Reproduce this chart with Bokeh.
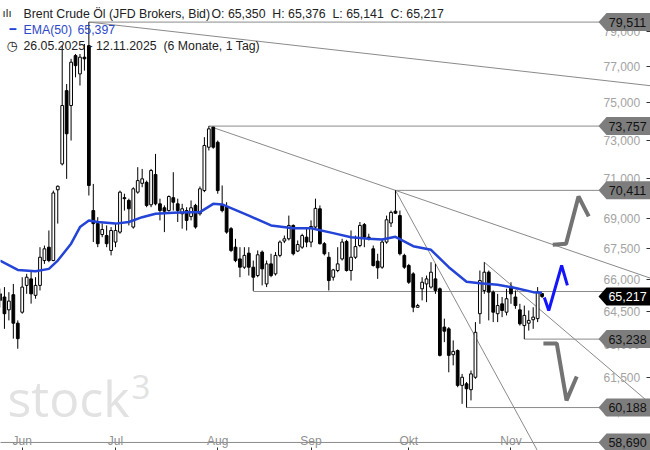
import numpy as np
import pandas as pd
from bokeh.plotting import figure
from bokeh.models import ColumnDataSource, FixedTicker, CustomJSTickFormatter, Range1d, Label
from bokeh.core.properties import value
from bokeh.embed import file_html
from bokeh.resources import INLINE

# ---------------- data ----------------
opens = [65.34, 65.19, 64.59, 65.30, 63.97, 64.48, 65.74, 66.05, 65.27, 65.74,
         66.93, 67.58, 66.93, 70.44, 71.77, 75.67, 74.86, 77.61, 76.59, 77.52,
         78.17, 69.39, 68.74, 68.20, 68.15, 67.42, 67.83, 68.32, 70.04, 69.90,
         68.57, 70.32, 70.77, 70.82, 69.68, 71.22, 69.73, 69.53, 69.39, 70.04,
         69.73, 69.23, 69.39, 69.09, 69.65, 69.23, 70.40, 72.64, 73.70, 72.90,
         69.65, 69.56, 68.49, 67.58, 67.01, 66.61, 67.29, 66.61, 66.21, 67.34,
         65.81, 66.77, 66.29, 67.18, 67.88, 67.99, 68.65, 67.39, 67.58, 68.07,
         67.83, 68.57, 69.48, 67.75, 67.09, 66.13, 66.45, 67.01, 67.86, 66.45,
         67.09, 67.66, 68.69, 68.07, 67.50, 66.90, 66.61, 67.83, 68.77, 69.36,
         69.14, 67.18, 66.69, 66.29, 64.71, 65.58, 65.81, 65.66, 66.05, 65.58,
         63.79, 63.71, 62.53, 62.72, 61.16, 61.23, 60.97, 61.52, 64.41, 65.50,
         66.37, 65.42, 64.41, 64.87, 64.48, 65.66, 65.19, 64.59, 63.86, 63.97,
         64.13, 64.18, 65.350]
highs = [65.59, 65.66, 65.42, 65.81, 64.10, 66.13, 66.29, 66.45, 66.13, 67.58,
         67.66, 68.40, 70.40, 70.66, 78.17, 76.03, 77.43, 77.70, 77.70, 78.26,
         79.511, 70.74, 69.06, 68.75, 68.65, 68.57, 68.74, 70.40, 70.24, 69.99,
         70.57, 71.60, 71.51, 70.91, 71.51, 72.29, 69.99, 69.65, 70.15, 71.34,
         69.99, 69.73, 69.56, 69.90, 69.73, 70.61, 73.17, 73.757, 73.72, 72.99,
         70.66, 69.81, 68.57, 67.99, 67.58, 67.58, 67.58, 66.93, 67.42, 67.42,
         66.93, 67.26, 67.34, 67.91, 68.15, 69.14, 68.70, 67.91, 68.24, 68.49,
         68.90, 69.99, 69.65, 67.83, 67.34, 66.53, 67.58, 67.99, 67.94, 68.40,
         68.15, 68.82, 68.77, 68.24, 67.66, 67.26, 67.99, 69.14, 69.39, 70.411,
         69.39, 67.26, 66.77, 66.37, 64.87, 66.13, 66.21, 66.85, 66.77, 65.64,
         64.18, 63.79, 63.18, 62.77, 61.67, 61.31, 61.82, 64.02, 66.45, 66.85,
         66.45, 65.50, 65.34, 65.19, 65.58, 65.89, 65.50, 64.87, 64.79, 64.56,
         64.71, 65.66, 65.376]
lows = [64.70, 63.71, 64.10, 63.26, 62.80, 64.41, 65.34, 64.88, 65.11, 65.50,
        66.77, 66.85, 66.90, 68.74, 71.69, 71.00, 72.99, 76.40, 75.95, 76.77,
        70.15, 67.83, 67.58, 68.07, 67.58, 67.18, 67.58, 68.24, 69.39, 68.65,
        68.49, 70.24, 70.57, 69.56, 69.56, 69.65, 68.90, 68.32, 69.34, 69.39,
        68.82, 68.49, 68.40, 68.90, 68.49, 69.14, 70.32, 72.47, 72.56, 70.24,
        69.30, 68.24, 67.34, 66.85, 66.13, 66.53, 66.21, 65.48, 66.13, 65.74,
        65.66, 66.13, 66.21, 67.09, 67.78, 67.91, 67.18, 67.34, 67.50, 67.58,
        67.58, 68.49, 67.71, 67.18, 65.50, 65.97, 66.37, 66.93, 66.40, 65.97,
        67.01, 67.58, 67.58, 67.91, 66.64, 66.05, 66.53, 67.75, 68.57, 69.23,
        67.18, 66.53, 65.81, 64.48, 64.69, 65.03, 64.95, 65.59, 65.34, 62.45,
        63.10, 61.74, 62.05, 61.08, 60.35, 60.188, 60.50, 61.45, 63.94, 65.34,
        64.10, 64.02, 64.02, 64.25, 64.33, 64.87, 64.64, 63.86, 63.238, 63.63,
        63.71, 64.02, 65.141]
closes = [65.03, 64.41, 65.00, 63.97, 63.26, 65.66, 66.13, 65.34, 65.74, 67.09,
          67.50, 66.93, 70.28, 70.62, 74.86, 73.35, 77.24, 77.05, 77.52, 77.43,
          70.66, 68.74, 67.75, 68.45, 67.75, 68.40, 68.40, 70.32, 69.99, 69.48,
          70.49, 70.91, 71.00, 69.65, 71.43, 69.73, 69.39, 69.36, 70.10, 69.81,
          69.39, 69.48, 68.90, 69.53, 68.57, 70.49, 72.73, 73.61, 72.64, 70.40,
          69.39, 68.32, 67.42, 66.93, 66.61, 67.18, 66.61, 66.13, 67.21, 66.53,
          66.77, 66.21, 67.18, 67.83, 67.99, 68.65, 67.26, 67.71, 68.15, 67.83,
          68.60, 69.50, 67.75, 67.26, 65.97, 66.48, 66.77, 67.83, 66.45, 67.09,
          67.61, 68.65, 68.07, 67.99, 66.69, 66.58, 67.83, 68.93, 69.30, 69.26,
          67.26, 66.61, 65.89, 64.71, 64.79, 65.89, 66.05, 66.37, 65.50, 62.50,
          63.60, 62.50, 62.68, 61.16, 61.52, 61.01, 61.67, 63.55, 65.97, 66.37,
          65.42, 64.48, 64.79, 64.56, 65.11, 65.34, 64.79, 63.94, 64.33, 64.10,
          64.25, 65.42, 65.217]

ema_idx = [0, 4, 8, 11, 13, 16, 18, 20, 22, 26, 29, 32, 35, 39, 42, 45, 48, 50,
           56, 61, 66, 70, 75, 79, 83, 86, 89, 93, 97, 101, 105, 108, 112, 116, 120, 122]
ema_val = [66.93, 66.48, 66.42, 66.53, 66.93, 67.75, 68.57, 68.90, 68.82, 68.74,
           68.82, 69.06, 69.23, 69.28, 69.31, 69.31, 69.73, 69.70, 69.14, 68.65,
           68.51, 68.51, 68.27, 68.07, 67.99, 67.96, 68.09, 67.63, 67.45, 66.61,
           65.91, 65.84, 65.77, 65.62, 65.42, 65.397]

month_names = ["Jun", "Jul", "Aug", "Sep", "Okt", "Nov"]
y_ticks = [60.0, 61.5, 63.0, 64.5, 66.0, 67.5, 69.0, 71.0, 73.0, 75.0, 77.0, 79.0]

# horizontal levels and the candle index where each starts
level_vals = [79.511, 73.757, 70.411, 65.45, 63.238, 60.188, 58.690]
level_start = [20, 47, 89, 57, 118, 105, 0]
box_vals = [79.511, 73.757, 70.411, 63.238, 60.188, 58.690]
last_price = 65.217

# trend lines: two anchor points (index, price) each, extended to the right
trend_a = [(20, 79.511), (146.0, 75.95)]
trend_b = [(47, 73.757), (89, 70.411)]
trend_c = [(89, 70.411), (117, 59.72)]
trend_d = [(109, 66.85), (126.2, 63.78)]

# scenario arrows (index, price)
arrow_up_x = [124.4, 127.4, 130.2, 132.5]
arrow_up_y = [67.70, 67.75, 70.10, 69.10]
arrow_mid_x = [122.5, 123.5, 126.4, 127.7]
arrow_mid_y = [65.17, 64.56, 66.69, 65.74]
arrow_dn_x = [122.3, 125.3, 127.5, 129.8]
arrow_dn_y = [63.04, 63.04, 60.50, 61.55]

# ---------------- figure ----------------
dates = pd.bdate_range("2025-05-26", "2025-11-12")
n = len(opens)
idx = np.arange(n)

W, H = 650, 450
X0, X1 = 0.1125, 146.4
Y0, Y1 = 58.35, 80.76
PX_PER_LN = H / (np.log(Y1) - np.log(Y0))


def ix(xr):
    return X0 + (X1 - X0) * xr / W


FONT = "Liberation Sans"

p = figure(width=W, height=H, x_range=Range1d(X0, X1), y_range=Range1d(Y0, Y1),
           y_axis_type="log", y_axis_location="right",
           output_backend="svg", toolbar_location=None, min_border=0)
p.xgrid.visible = False
p.ygrid.visible = False
p.outline_line_color = None
p.background_fill_color = "white"
p.border_fill_color = "white"

# y axis (labels drawn inside the frame)
ya = p.yaxis[0]
ya.ticker = FixedTicker(ticks=y_ticks, minor_ticks=[])
ya.formatter = CustomJSTickFormatter(code="return tick.toFixed(3).replace('.', ',');")
ya.axis_line_color = None
ya.major_tick_in = 4
ya.major_tick_out = 0
ya.minor_tick_line_color = None
ya.major_tick_line_color = "#333333"
ya.major_label_standoff = -47
ya.major_label_text_color = "#a3a3a3"
ya.major_label_text_font = FONT
ya.major_label_text_font_size = "12px"

# x axis: month starts
month_ticks = []
seen = set()
for i, d in enumerate(dates[:n]):
    key = (d.year, d.month)
    if key not in seen and i > 0:
        month_ticks.append(i)
    seen.add(key)
xa = p.xaxis[0]
xa.ticker = FixedTicker(ticks=month_ticks, minor_ticks=[])
xa.major_label_overrides = {t: m for t, m in zip(month_ticks, month_names)}
xa.axis_line_color = None
xa.major_tick_in = 3
xa.major_tick_out = 0
xa.minor_tick_line_color = None
xa.major_tick_line_color = "#333333"
xa.major_label_standoff = -17
xa.major_label_text_color = "#8f8f8f"
xa.major_label_text_font = FONT
xa.major_label_text_font_size = "12px"

# watermark
p.add_layout(Label(x=7, y=H - 397, x_units="screen", y_units="screen",
                   text="stock", text_font="Open Sans", text_font_size="50px",
                   text_color="#e2e2e2", text_baseline="alphabetic", level="underlay"))
p.add_layout(Label(x=131, y=H - 386, x_units="screen", y_units="screen",
                   text="3", text_font="Open Sans", text_font_size="33px",
                   text_color="#e2e2e2", text_baseline="alphabetic", level="underlay"))

# horizontal levels
p.segment(x0=level_start, y0=level_vals, x1=[X1 + 1] * len(level_vals), y1=level_vals,
          line_color="#8a8a8a", line_width=1)


def extend(anchor, x_end):
    (xa_, ya_), (xb_, yb_) = anchor
    k = (np.log(yb_) - np.log(ya_)) / (xb_ - xa_)
    return [xa_, x_end], [ya_, float(np.exp(np.log(ya_) + k * (x_end - xa_)))]


for tl, xe in [(trend_a, X1 + 1), (trend_b, X1 + 1), (trend_c, 125), (trend_d, X1 + 1)]:
    xs, ys = extend(tl, xe)
    p.line(xs, ys, line_color="#8a8a8a", line_width=1)

# candles
top = [max(o, c) for o, c in zip(opens, closes)]
bot = [min(o, c) for o, c in zip(opens, closes)]
fill = ["white" if c >= o else "black" for o, c in zip(opens, closes)]
src = ColumnDataSource(dict(x=idx, h=highs, l=lows, top=top, bot=bot, fill=fill))
p.segment(x0="x", y0="h", x1="x", y1="l", line_color="black", line_width=1, source=src)
p.vbar(x="x", width=0.62, top="top", bottom="bot", fill_color="fill",
       line_color="black", line_width=1, source=src)

# EMA
p.line(ema_idx, ema_val, line_color="#2344d6", line_width=2.5)

# scenario arrows
p.line(arrow_up_x, arrow_up_y, line_color="#737373", line_width=4)
p.line(arrow_dn_x, arrow_dn_y, line_color="#737373", line_width=4)
p.line(arrow_mid_x, arrow_mid_y, line_color="#1414ff", line_width=3)

# price boxes on the right
hk = np.exp(9 / PX_PER_LN)
x_tip, x_body, x_end = ix(598), ix(606), X1 + 1


def box(v):
    return [x_tip, x_body, x_end, x_end, x_body], [v, v * hk, v * hk, v / hk, v / hk]


bx, by = zip(*[box(v) for v in box_vals])
p.patches(list(bx), list(by), fill_color="#7d7d7d", line_color=None, level="overlay")
lx, ly = box(last_price)
p.patch(lx, ly, fill_color="black", line_color=None, level="overlay")
p.text(x=[ix(627)] * len(box_vals), y=box_vals,
       text=[f"{v:.3f}".replace(".", ",") for v in box_vals],
       text_align="center", text_baseline="middle", text_color="#111111",
       text_font=value(FONT), text_font_size="12.5px", level="overlay")
p.text(x=[ix(627)], y=[last_price], text=[f"{last_price:.3f}".replace(".", ",")],
       text_align="center", text_baseline="middle", text_color="white",
       text_font=value(FONT), text_font_size="12.5px", level="overlay")


# header
def hdr(xr, yr, text, color="#222222", size="12.3px", font=FONT):
    p.add_layout(Label(x=xr, y=H - yr, x_units="screen", y_units="screen",
                       text=text, text_font=font, text_font_size=size,
                       text_color=color, text_baseline="middle"))


NB = "\u00a0"
hdr(2, 13, "ılı", size="11px", font="DejaVu Sans")
hdr(23, 13, "Brent Crude Öl (JFD Brokers, Bid)")
hdr(211, 13, "O: 65,350" + NB * 2 + "H: 65,376" + NB * 2 + "L: 65,141" + NB * 2 + "C: 65,217")
hdr(9, 29, "━", color="#2344d6", size="11px", font="DejaVu Sans")
hdr(23, 29, "EMA(50)", color="#2b48c9")
hdr(77, 29, "65,397", color="#2b48c9")
hdr(6, 45, "◷", size="13px", font="DejaVu Sans")
hdr(23, 45, "26.05.2025 - 12.11.2025")
hdr(163, 45, "(6 Monate, 1 Tag)")

open("out.html", "w").write(file_html(p, INLINE))
